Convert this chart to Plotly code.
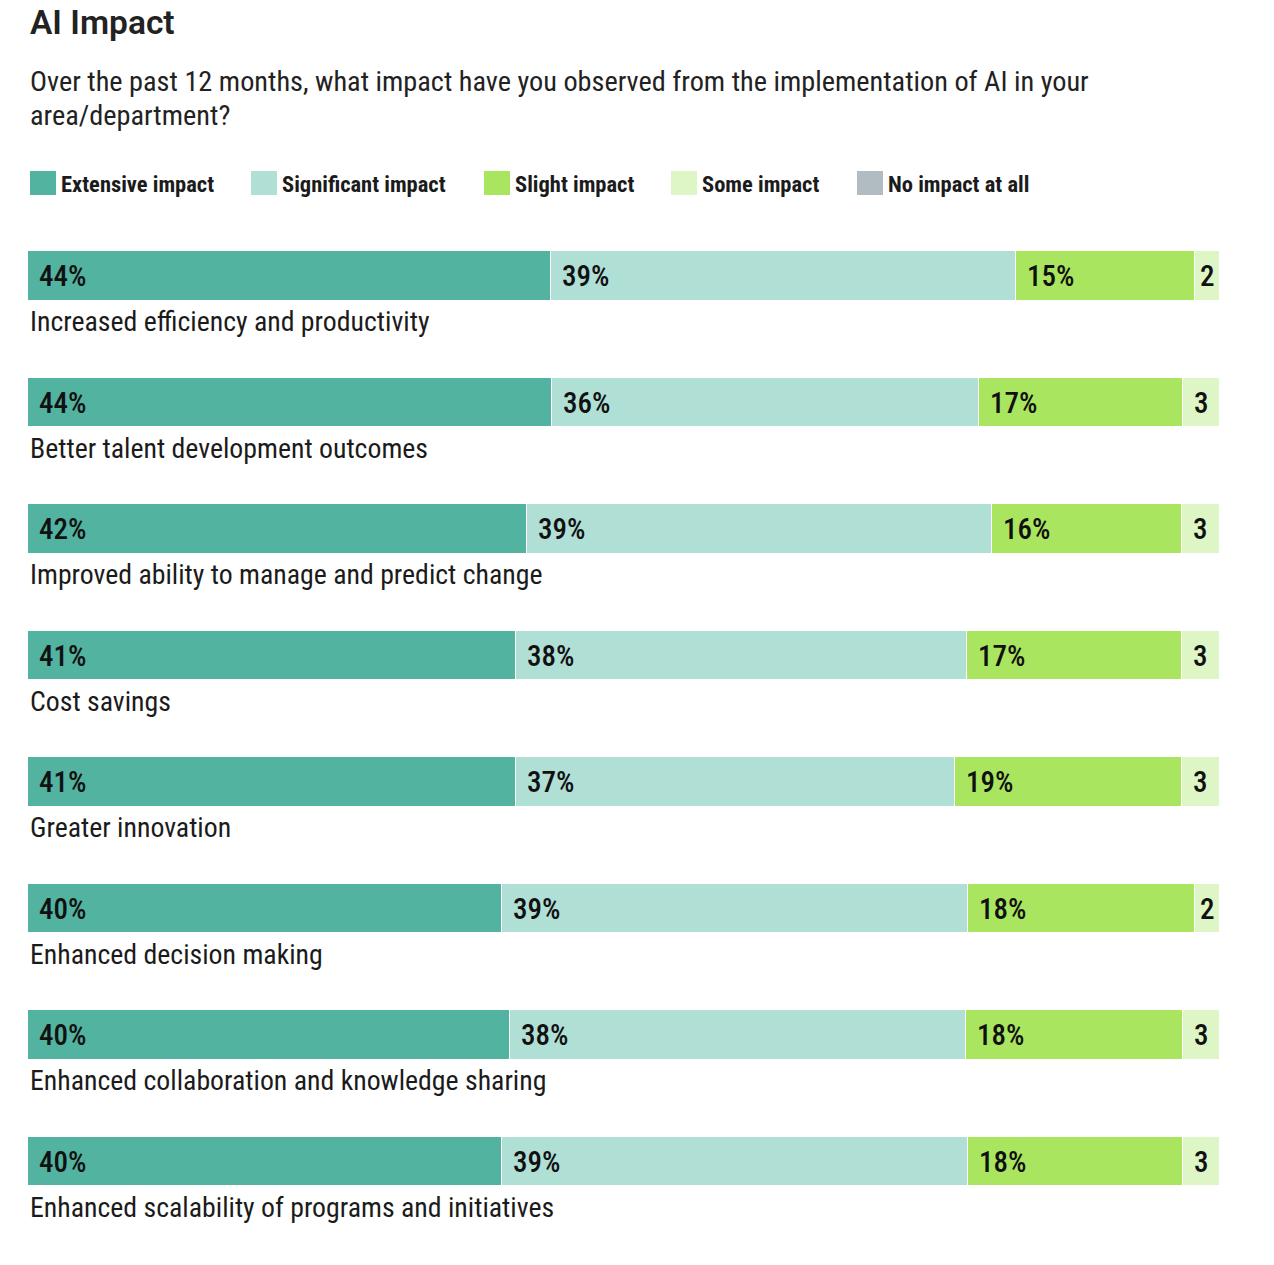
import plotly.graph_objects as go

# ---------------- data ----------------
categories = [
    "Increased efficiency and productivity",
    "Better talent development outcomes",
    "Improved ability to manage and predict change",
    "Cost savings",
    "Greater innovation",
    "Enhanced decision making",
    "Enhanced collaboration and knowledge sharing",
    "Enhanced scalability of programs and initiatives",
]
series_names = ["Extensive impact", "Significant impact", "Slight impact", "Some impact", "No impact at all"]
series_colors = ["#52B3A0", "#B0DFD6", "#AAE55F", "#DEF5C6", "#B0BBC2"]

extensive = [43.9, 44.0, 41.9, 40.9, 40.9, 39.8, 40.4, 39.8]
significant = [39.0, 35.8, 39.0, 37.9, 36.9, 39.1, 38.3, 39.1]
slight = [15.0, 17.1, 15.9, 18.0, 19.0, 19.0, 18.2, 18.0]
some = [2.1, 3.1, 3.2, 3.2, 3.2, 2.1, 3.1, 3.1]
no_impact = [0, 0, 0, 0, 0, 0, 0, 0]

extensive_labels = ["44%", "44%", "42%", "41%", "41%", "40%", "40%", "40%"]
significant_labels = ["39%", "36%", "39%", "38%", "37%", "39%", "38%", "39%"]
slight_labels = ["15%", "17%", "16%", "17%", "19%", "18%", "18%", "18%"]
some_labels = ["2", "3", "3", "3", "3", "2", "3", "3"]
no_impact_labels = ["", "", "", "", "", "", "", ""]

title_text = "AI Impact"
subtitle_lines = ["Over the past 12 months, what impact have you observed from the implementation of AI in your",
                  "area/department?"]

# ---------------- style ----------------
W, H = 1274, 1265
NARROW = "Roboto Condensed, Roboto, sans-serif"
TEXT_COLOR = "#1b1b1b"
ROW_PX = 126.5
Y_TOP = -2.182  # data value at the top edge of the figure


def py(p):
    """pixel row (from top) -> y data coordinate"""
    return p / ROW_PX + Y_TOP


values = [extensive, significant, slight, some, no_impact]
labels = [extensive_labels, significant_labels, slight_labels, some_labels, no_impact_labels]
rows = list(range(len(categories)))

fig = go.Figure()
for name, col, vals in zip(series_names, series_colors, values):
    fig.add_trace(go.Bar(
        orientation="h", x=vals, y=rows, name=name,
        marker=dict(color=col, line=dict(color="white", width=1)),
        width=0.39, showlegend=False, hoverinfo="x+name",
    ))

annotations = []
seg_font = dict(family=NARROW, size=29, color="#111111", weight=500)
# segment labels
for i in rows:
    base = 0.0
    for k, (vals, labs) in enumerate(zip(values, labels)):
        v = vals[i]
        if labs[i]:
            if k < 3:
                annotations.append(dict(x=base, y=i, xref="x", yref="y", text=labs[i],
                                        xanchor="left", yanchor="middle", xshift=9, showarrow=False,
                                        font=seg_font))
            else:
                annotations.append(dict(x=base + v / 2, y=i, xref="x", yref="y", text=labs[i],
                                        xanchor="center", yanchor="middle", showarrow=False,
                                        font=seg_font))
        base += v
    # category label under bar
    annotations.append(dict(x=0, y=i + 0.36, xref="x", yref="y", text=categories[i],
                            xanchor="left", yanchor="middle", showarrow=False,
                            font=dict(family=NARROW, size=27.8, color=TEXT_COLOR)))

# title & subtitle
annotations.append(dict(x=0, y=py(22), xref="x", yref="y", text=title_text,
                        xanchor="left", yanchor="middle", showarrow=False,
                        font=dict(family="Roboto, sans-serif", size=33.5, color="#222222", weight=600)))
for line, p in zip(subtitle_lines, [81, 115]):
    annotations.append(dict(x=0, y=py(p), xref="x", yref="y", text=line, align="left",
                            xanchor="left", yanchor="middle", showarrow=False,
                            font=dict(family=NARROW, size=28.3, color="#222222")))

# legend (manual, large swatches)
legend_px = [30, 251, 484, 671, 857]
shapes = []
PX_PER_UNIT = (W - 28 - 54) / 100.0
for name, col, lx in zip(series_names, series_colors, legend_px):
    x0 = (lx - 28) / PX_PER_UNIT
    x1 = (lx + 26 - 28) / PX_PER_UNIT
    shapes.append(dict(type="rect", xref="x", yref="y", x0=x0, x1=x1, y0=py(171), y1=py(195),
                       fillcolor=col, line=dict(width=0)))
    annotations.append(dict(x=(lx + 29 - 28) / PX_PER_UNIT, y=py(184), xref="x", yref="y",
                            text=name, xanchor="left", yanchor="middle",
                            showarrow=False, font=dict(family=NARROW, size=22.5, color=TEXT_COLOR, weight=700)))

fig.update_layout(
    width=W, height=H, barmode="stack",
    margin=dict(l=28, r=54, t=0, b=0),
    paper_bgcolor="white", plot_bgcolor="white",
    xaxis=dict(range=[0, 100], visible=False, fixedrange=True),
    yaxis=dict(range=[Y_TOP + H / ROW_PX, Y_TOP], visible=False, fixedrange=True),
    annotations=annotations, shapes=shapes, bargap=0,
)

fig.write_html("out.html")
